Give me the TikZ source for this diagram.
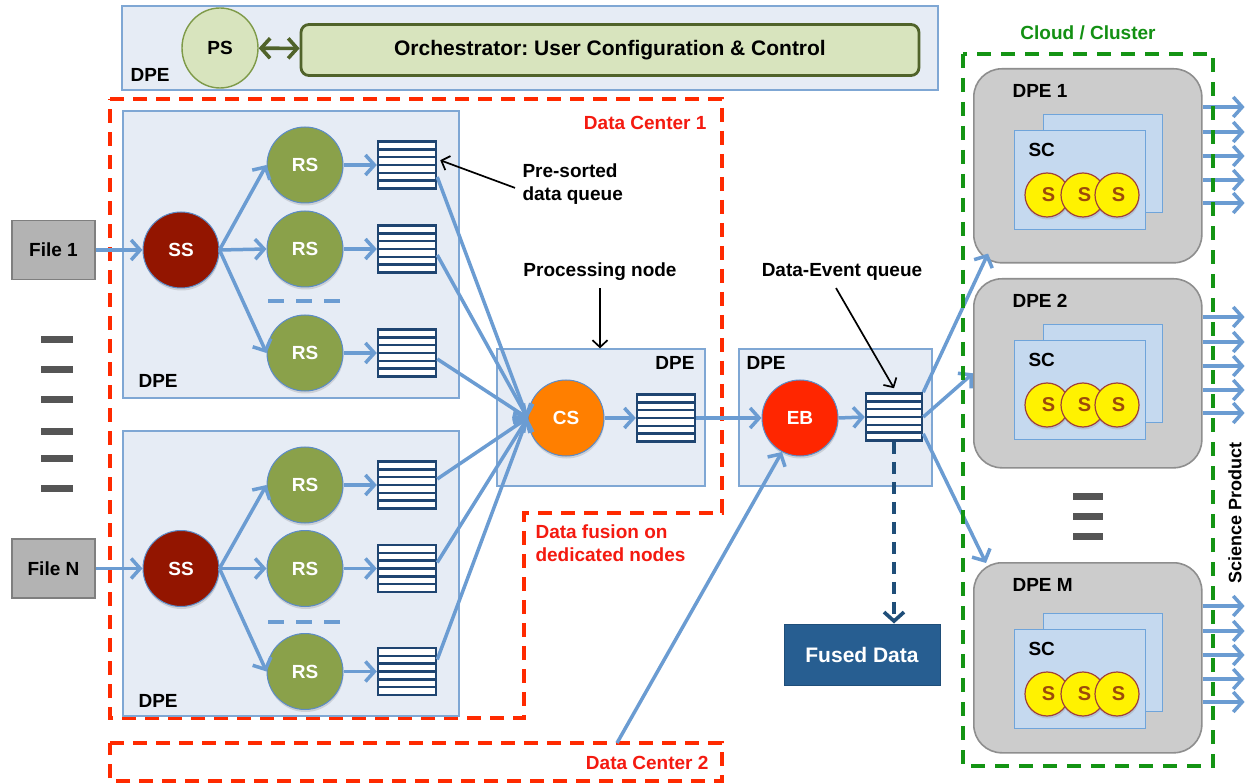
\documentclass[tikz,border=0pt]{standalone}
\usepackage{fontspec}
\setmainfont{Liberation Sans}
\usetikzlibrary{arrows.meta,shapes.geometric,shadows,calc}
\frenchspacing

\definecolor{flowc}{HTML}{6B9CD2}
\definecolor{dpefill}{HTML}{E6ECF5}
\definecolor{dpedraw}{HTML}{7FA7D4}
\definecolor{qline}{HTML}{1F4571}
\definecolor{ssfill}{HTML}{931500}
\definecolor{rsfill}{HTML}{8AA14A}
\definecolor{csfill}{HTML}{FF7F00}
\definecolor{ebfill}{HTML}{FF2600}
\definecolor{cedge}{HTML}{5B8BC7}
\definecolor{orchfill}{HTML}{D8E4BE}
\definecolor{orchdraw}{HTML}{50632A}
\definecolor{psdraw}{HTML}{7E9A48}
\definecolor{filefill}{HTML}{B3B3B3}
\definecolor{filedraw}{HTML}{7F7F7F}
\definecolor{fusedfill}{HTML}{275E91}
\definecolor{fuseddraw}{HTML}{1F4E79}
\definecolor{grayfill}{HTML}{CCCCCC}
\definecolor{graydraw}{HTML}{8E8E8E}
\definecolor{scfill}{HTML}{C5D9EF}
\definecolor{scdraw}{HTML}{6FA4DA}
\definecolor{sdraw}{HTML}{A0413A}
\definecolor{stext}{HTML}{9C4A0A}
\definecolor{redc}{HTML}{FF2A00}
\definecolor{redtxt}{HTML}{F41A10}
\definecolor{greenc}{HTML}{149414}
\definecolor{greentxt}{HTML}{139013}
\definecolor{bargray}{HTML}{555555}

\tikzset{
  tipbarb/.tip={Straight Barb[length=9pt,width=20pt]},
  dpebox/.style={rectangle, draw=dpedraw, fill=dpefill, line width=1.3pt, inner sep=0pt},
  proc/.style={circle, minimum size=76pt, inner sep=0pt, draw=cedge, line width=1pt,
    text=white, drop shadow={shadow xshift=0.5pt, shadow yshift=-2.5pt, opacity=0.25}},
  queue/.style={rectangle, draw=qline, fill=white, line width=2.5pt, minimum width=58pt,
    minimum height=47pt, inner sep=0pt,
    path picture={\foreach \k in {1,...,5}{
      \draw[qline, line width=2.4pt]
        ($(path picture bounding box.north west)!\k/6!(path picture bounding box.south west)$) --
        ($(path picture bounding box.north east)!\k/6!(path picture bounding box.south east)$);}}},
  filebox/.style={rectangle, draw=filedraw, fill=filefill, line width=1.4pt,
    minimum width=83pt, minimum height=59pt},
  graybox/.style={rectangle, rounded corners=28pt, draw=graydraw, fill=grayfill,
    line width=1.6pt, minimum width=228pt, inner sep=0pt},
  scbox/.style={rectangle, draw=scdraw, fill=scfill, line width=1.4pt, inner sep=0pt},
  sball/.style={circle, minimum size=44pt, inner sep=0pt, fill=yellow, draw=sdraw,
    line width=1.2pt, text=stext, font=\fontsize{20}{22}\selectfont\bfseries,
    drop shadow={shadow xshift=0.5pt, shadow yshift=-2.5pt, opacity=0.25}},
  flow/.style={draw=flowc, line width=3.5pt, -tipbarb},
  note/.style={draw=black, line width=1.7pt, -{Straight Barb[length=7pt,width=15pt]}},
  region/.style={line width=3.8pt, dash pattern=on 14pt off 9pt},
  sepdash/.style={draw=flowc, line width=3.6pt, dash pattern=on 16pt off 12pt},
  dbl/.style={draw=orchdraw, line width=3.6pt, tipbarb-tipbarb},
  fusedarrow/.style={draw=fuseddraw, line width=3.6pt, dash pattern=on 12pt off 8pt, -tipbarb}
}

\begin{document}
\begin{tikzpicture}[x=1pt, y=-1pt, font=\fontsize{19}{23}\selectfont\bfseries]
\useasboundingbox[fill=white] (0,0) rectangle (1245,783);

% ---------- top: orchestrator DPE ----------
\node[dpebox, minimum width=816pt, minimum height=84pt] (topdpe) at (530,48) {};
\node[anchor=west] (topdpelab) at (127,75) {DPE};
\node[ellipse, draw=psdraw, fill=orchfill, line width=1.4pt, minimum width=76pt,
      minimum height=80pt, inner sep=0pt] (ps) at (220,48) {PS};
\node[draw=orchdraw, fill=orchfill, line width=2.8pt, rounded corners=8pt,
      minimum width=618pt, minimum height=51pt, font=\fontsize{21}{24}\selectfont\bfseries]
      (orch) at (610,50) {Orchestrator: User Configuration \& Control};
\draw[dbl] (ps) -- (orch);

% ---------- data centre regions ----------
\draw[region, draw=redc] (110,99) -- (722,99) -- (722,513) -- (524,513) -- (524,718) -- (110,718) -- cycle;
\draw[region, draw=redc] (110,743) -- (722,743) -- (722,781) -- (110,781) -- cycle;
\coordinate (dc2top) at (617,743);
\node[anchor=east, text=redtxt] (dc1lab) at (710,123) {Data Center 1};
\node[anchor=east, text=redtxt] (dc2lab) at (712,763) {Data Center 2};
\node[anchor=north west, align=left, text=redtxt] (fusionlab) at (532,521) {Data fusion on\\dedicated nodes};

% ---------- DPE containers ----------
\node[dpebox, minimum width=336pt, minimum height=287pt] (dpeA) at (291,254.5) {};
\node[anchor=west] (dpeAlab) at (135,381) {DPE};
\node[dpebox, minimum width=336pt, minimum height=285pt] (dpeB) at (291,573.5) {};
\node[anchor=west] (dpeBlab) at (135,701) {DPE};
\node[dpebox, minimum width=208pt, minimum height=137pt] (dpeCS) at (601,417.5) {};
\node[anchor=east] (dpeCSlab) at (698,363) {DPE};
\node[dpebox, minimum width=193pt, minimum height=137pt] (dpeEB) at (835.5,417.5) {};
\node[anchor=west] (dpeEBlab) at (743,363) {DPE};

% ---------- input files ----------
\node[filebox] (file1) at (53.5,250) {File 1};
\node[filebox] (fileN) at (53.5,568.5) {File N};
\foreach \y in {340,370,400,431,458,488}
  \fill[bargray] (41,{\y-3.5}) rectangle (73,{\y+3.5});

% ---------- services ----------
\node[proc, fill=ssfill] (ss1) at (181,250) {SS};
\node[proc, fill=ssfill] (ss2) at (181,568.5) {SS};
\foreach \i/\y in {1/165,2/249,3/353,4/485,5/568.5,6/671.5}{
  \node[proc, fill=rsfill] (rs\i) at (305,\y) {RS};
  \node[queue] (q\i) at (407,\y) {};
}
\draw[sepdash] (268,301) -- (340,301);
\draw[sepdash] (268,622) -- (340,622);

\node[proc, fill=csfill] (cs) at (566,418) {CS};
\node[queue] (qcs) at (666,418) {};
\node[proc, fill=ebfill] (eb) at (800,418) {EB};
\node[queue, minimum width=56pt] (qeb) at (894,417) {};

\node[rectangle, fill=fusedfill, draw=fuseddraw, line width=1pt, text=white,
      minimum width=156pt, minimum height=61pt, font=\fontsize{21}{24}\selectfont\bfseries]
      (fused) at (862,654.5) {Fused Data};

% ---------- annotations ----------
\node[anchor=north west, align=left] (presort) at (519,160) {Pre-sorted\\data queue};
\draw[note] ($(presort.west)+(-4,4)$) -- ($(q1.north east)+(3,20)$);
\node (proclab) at (600,272) {Processing node};
\draw[note] ($(proclab.south)+(0,4)$) -- (proclab.south |- dpeCS.north);
\node (evlab) at (842,272) {Data-Event queue};
\draw[note] ($(evlab.south)+(-6,4)$) -- ($(qeb.north)+(0,-4)$);

% ---------- flows ----------
\draw[flow] (file1.east) -- (ss1.west);
\draw[flow] (fileN.east) -- (ss2.west);
\foreach \r in {1,2,3} \draw[flow] (ss1.east) -- (rs\r.west);
\foreach \r in {4,5,6} \draw[flow] (ss2.east) -- (rs\r.west);
\foreach \r in {1,...,6} \draw[flow] (rs\r.east) -- (q\r.west);
\foreach \r/\o in {1/12,2/6,3/6,4/-6,5/-6,6/-12}
  \draw[flow] ($(q\r.east)+(0,\o)$) -- (cs.west);
\draw[flow] (cs.east) -- (qcs.west);
\draw[flow] (qcs.east) -- (eb.west);
\draw[flow] (eb.east) -- (qeb.west);
\draw[flow] (dc2top) -- (eb.242);
\draw[fusedarrow] (qeb.south) -- (qeb.south |- fused.north);

% ---------- cloud / cluster ----------
\foreach \n/\t/\h/\lab/\d in {dpe1/68/194/DPE 1/0, dpe2/278/189/DPE 2/0, dpeM/562/190/DPE M/5}{
  \node[graybox, minimum height=\h pt, anchor=north west] (\n) at (973,\t) {};
  \node[anchor=west] (\n lab) at (1009,{\t+23}) {\lab};
  \node[scbox, minimum width=119pt, minimum height=98pt, anchor=north west] (\n back) at (1043,{\t+46+\d}) {};
  \node[scbox, minimum width=131pt, minimum height=99pt, anchor=north west] (\n sc) at (1014,{\t+62+\d}) {};
  \node[anchor=west] (\n sclab) at (1025,{\t+82+\d}) {SC};
  \node[sball] (\n s1) at (1047,{\t+127+\d}) {\hspace*{3pt}S};
  \node[sball] (\n s2) at (1083,{\t+127+\d}) {\hspace*{3pt}S};
  \node[sball] (\n s3) at (1117,{\t+127+\d}) {\hspace*{3pt}S};
  \foreach \o in {39,64,88,112,135}
    \draw[flow] ($(\n.north east)+(0,{\o+\d})$) -- ++(42,0);
}
\foreach \y in {496,516,536}
  \fill[bargray] (1073,{\y-3.5}) rectangle (1103,{\y+3.5});

\draw[flow] (qeb.north east) -- ($(dpe1.south west)+(15,-10)$);
\draw[flow] (qeb.east) -- (dpe2.west);
\draw[flow] ($(qeb.south east)+(0,-8)$) -- ($(dpeM.north west)+(13,1)$);

\draw[region, draw=greenc, dash pattern=on 14pt off 10pt] (963,54) rectangle (1213,766);
\node[text=greentxt] (cloudlab) at (1088,33) {Cloud / Cluster};
\node[rotate=90, font=\fontsize{18}{21}\selectfont\bfseries] (sciprod) at (1235,513) {Science Product};
\end{tikzpicture}
\end{document}
